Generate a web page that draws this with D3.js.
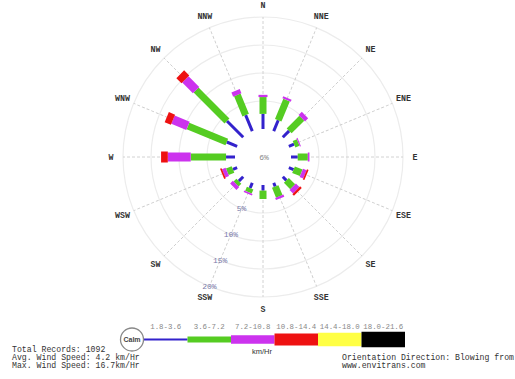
<!DOCTYPE html>
<html>
<head>
<meta charset="utf-8">
<script src="https://cdn.jsdelivr.net/npm/d3@7"></script>
<style>
  html, body { margin: 0; padding: 0; background: #fff; }
  svg { display: block; }
</style>
</head>
<body>
<svg id="rose" width="515" height="379"></svg>
<script>
// Wind rose: frequency (%) of wind blowing from each of 16 sectors, split by speed class (km/Hr)
const directions = ["N","NNE","NE","ENE","E","ESE","SE","SSE","S","SSW","SW","WSW","W","WNW","NW","NNW"];
const speedClasses = ["1.8-3.6","3.6-7.2","7.2-10.8","10.8-14.4","14.4-18.0","18.0-21.6"];

// Percent of records per sector for each speed class
const class1 = [2.7, 2.1, 1.6, 1.0, 1.2, 0.9, 0.9, 0.7, 1.0, 1.0, 1.1, 0.8, 1.6, 2.0, 4.1, 3.1];
const class2 = [3.0, 3.9, 3.2, 0.8, 1.8, 1.5, 1.6, 1.9, 1.5, 0.8, 0.7, 1.1, 6.3, 7.5, 7.8, 3.9];
const class3 = [0.4, 0.4, 0.8, 0.2, 0.3, 0.7, 0.9, 0.4, 0.0, 0.3, 0.7, 0.7, 4.1, 2.9, 2.7, 0.8];
const class4 = [0.0, 0.0, 0.0, 0.0, 0.0, 0.3, 0.4, 0.0, 0.0, 0.0, 0.0, 0.3, 1.2, 1.2, 1.3, 0.0];
const class5 = [0, 0, 0, 0, 0, 0, 0, 0, 0, 0, 0, 0, 0, 0, 0, 0];
const class6 = [0, 0, 0, 0, 0, 0, 0, 0, 0, 0, 0, 0, 0, 0, 0, 0];
const calmPct = 6;

const ringTicks = [5, 10, 15, 20];
const summaryLines = ["Total Records: 1092", "Avg. Wind Speed: 4.2 km/Hr", "Max. Wind Speed: 16.7km/Hr"];
const footerLines = ["Orientation Direction: Blowing from", "www.envitrans.com"];

const classColors = ["#3322cc", "#55cc22", "#cc33ee", "#ee1111", "#ffff44", "#000000"];
const barWidths = [3, 7, 9, 11, 13, 15];
const legendHeights = [2, 6, 8.5, 12, 13.5, 15.5];

const svg = d3.select("#rose");
const cx = 263, cy = 157;
const mono = "'Liberation Mono', 'DejaVu Sans Mono', monospace";

const r = d3.scaleLinear().domain([0, 20]).range([28, 140]);
const angle = d3.scalePoint().domain(directions).range([0, 337.5]);

const keys = ["c1","c2","c3","c4","c5","c6"];
const classArrays = [class1, class2, class3, class4, class5, class6];
const rows = directions.map((d, i) => {
  const o = { dir: d };
  keys.forEach((k, j) => o[k] = classArrays[j][i]);
  return o;
});
const stacked = d3.stack().keys(keys)(rows);

const g = svg.append("g").attr("transform", `translate(${cx},${cy})`);

// Rings
g.selectAll("circle.ring").data(ringTicks).join("circle")
  .attr("class", "ring")
  .attr("r", d => r(d))
  .attr("fill", "none")
  .attr("stroke", "#ececec")
  .attr("stroke-width", 1.2);

// Spokes
g.selectAll("line.spoke").data(directions).join("line")
  .attr("class", "spoke")
  .attr("transform", d => `rotate(${angle(d)})`)
  .attr("x1", 0).attr("x2", 0)
  .attr("y1", -r(0)).attr("y2", -r(20))
  .attr("stroke", "#cdcdcd")
  .attr("stroke-width", 0.9)
  .attr("stroke-dasharray", "3,2");

// Direction labels
const labelR = 152;
g.selectAll("text.dir").data(directions).join("text")
  .attr("class", "dir")
  .attr("x", d => labelR * Math.sin(angle(d) * Math.PI / 180))
  .attr("y", d => -labelR * Math.cos(angle(d) * Math.PI / 180))
  .attr("text-anchor", "middle")
  .attr("dominant-baseline", "central")
  .attr("font-family", mono)
  .attr("font-weight", "bold")
  .attr("font-size", 8.3)
  .attr("fill", "#333")
  .text(d => d);

// Bars
stacked.forEach((series, j) => {
  g.append("g").selectAll("rect").data(series.filter(p => p[1] - p[0] > 0)).join("rect")
    .attr("transform", p => `rotate(${angle(p.data.dir)})`)
    .attr("x", -barWidths[j] / 2)
    .attr("width", barWidths[j])
    .attr("y", p => -r(p[1]))
    .attr("height", p => r(p[1]) - r(p[0]))
    .attr("fill", classColors[j]);
});

// Ring labels along the SSW spoke
const labelAng = angle("SSW") * Math.PI / 180;
g.selectAll("text.ringlab").data(ringTicks).join("text")
  .attr("class", "ringlab")
  .attr("x", d => r(d) * Math.sin(labelAng))
  .attr("y", d => -r(d) * Math.cos(labelAng))
  .attr("text-anchor", "middle")
  .attr("dominant-baseline", "central")
  .attr("font-family", mono)
  .attr("font-size", 8)
  .attr("fill", "#7a7aaa")
  .text(d => d + "%");

// Calm percentage
g.append("text")
  .attr("x", 1).attr("y", 0)
  .attr("text-anchor", "middle")
  .attr("dominant-baseline", "central")
  .attr("font-family", mono)
  .attr("font-size", 8)
  .attr("fill", "#888")
  .text(calmPct + "%");

// Legend
const legY = 339.5;
const lx = d3.scaleBand().domain(speedClasses).range([144, 405]);
const leg = svg.append("g");
leg.selectAll("rect").data(speedClasses).join("rect")
  .attr("x", d => lx(d))
  .attr("width", lx.bandwidth())
  .attr("y", (d, i) => legY - legendHeights[i] / 2)
  .attr("height", (d, i) => legendHeights[i])
  .attr("fill", (d, i) => classColors[i]);
leg.selectAll("text").data(speedClasses).join("text")
  .attr("x", d => lx(d) + lx.bandwidth() / 2)
  .attr("y", 327)
  .attr("text-anchor", "middle")
  .attr("dominant-baseline", "central")
  .attr("font-family", mono)
  .attr("font-size", 7.4)
  .attr("fill", "#888")
  .text(d => d);
leg.append("circle")
  .attr("cx", 132).attr("cy", legY).attr("r", 11.5)
  .attr("fill", "#fff").attr("stroke", "#888").attr("stroke-width", 1.3);
leg.append("text")
  .attr("x", 132).attr("y", legY)
  .attr("text-anchor", "middle").attr("dominant-baseline", "central")
  .attr("font-family", "'Liberation Sans', Arial, sans-serif")
  .attr("font-size", 7).attr("font-weight", "bold").attr("fill", "#444")
  .text("Calm");
leg.append("text")
  .attr("x", 262).attr("y", 351)
  .attr("text-anchor", "middle").attr("dominant-baseline", "central")
  .attr("font-family", "'Liberation Sans', Arial, sans-serif")
  .attr("font-size", 7.5).attr("fill", "#333")
  .text("km/Hr");

// Summary text
svg.append("g").selectAll("text").data(summaryLines).join("text")
  .attr("x", 12)
  .attr("y", (d, i) => 349 + i * 8)
  .attr("dominant-baseline", "central")
  .attr("font-family", mono)
  .attr("font-size", 8.2)
  .attr("fill", "#333")
  .text(d => d);

svg.append("g").selectAll("text").data(footerLines).join("text")
  .attr("x", 342)
  .attr("y", (d, i) => 357 + i * 8)
  .attr("dominant-baseline", "central")
  .attr("font-family", mono)
  .attr("font-size", 8.2)
  .attr("fill", "#333")
  .text(d => d);
</script>
</body>
</html>
